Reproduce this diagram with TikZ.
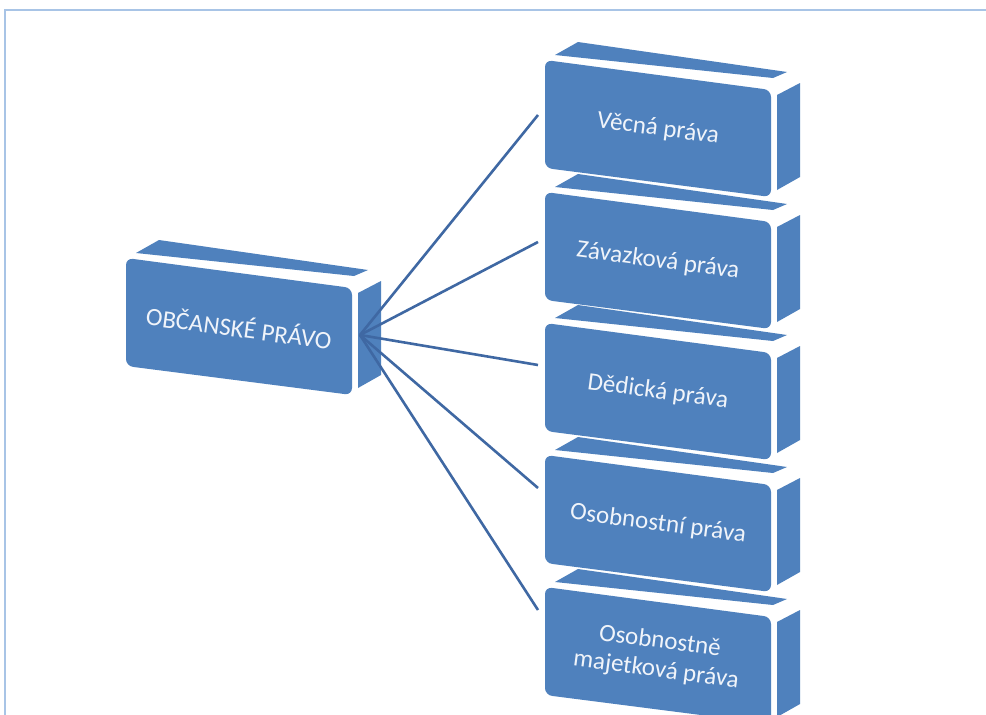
\documentclass[tikz,border=0pt]{standalone}
\usepackage{fontspec}
\setmainfont{Carlito}
\definecolor{boxblue}{HTML}{4F81BD}
\definecolor{linkblue}{HTML}{3F68A3}
\definecolor{frameblue}{HTML}{A8C4E6}
\definecolor{txtcol}{HTML}{F0F4FA}
\tikzset{
  face/.style={fill=boxblue},
  frontface/.style={fill=boxblue, rounded corners=7pt},
  lbl/.style={text=txtcol, font=\fontsize{25}{29}\selectfont, rotate=-7.6, align=center, inner sep=0pt},
  link/.style={draw=linkblue, line width=2.6pt},
  frameline/.style={draw=frameblue, line width=2pt}
}
\newcommand\drawblock[4]{%
  \fill[face] ({#1+10},{#2-5}) -- ({#1+33},{#2-18}) -- ({#1+242},{#2+12}) -- ({#1+228},{#2+18}) -- cycle;
  \fill[face] ({#1+232},{#2+35}) -- ({#1+255},{#2+23}) -- ({#1+255},{#2+117}) -- ({#1+232},{#2+130}) -- cycle;
  \fill[frontface] (#1,#2) -- ({#1+226},{#2+30}) -- ({#1+226},{#2+137}) -- (#1,{#2+108}) -- cycle;
  \node[lbl] (#3) at ({#1+113},{#2+69}) {#4};
}
\begin{document}
\begin{tikzpicture}[x=1pt,y=-1pt]
\useasboundingbox (0,0) rectangle (986,715);
\fill[white] (0,0) rectangle (986,715);
\draw[frameline] (5,716) -- (5,10) -- (987,10);
\drawblock{126}{258}{main}{OBČANSKÉ PRÁVO}
\drawblock{545}{60}{b1}{Věcná práva}
\drawblock{545}{192}{b2}{Závazková práva}
\drawblock{545}{323}{b3}{Dědická práva}
\drawblock{545}{455}{b4}{Osobnostní práva}
\drawblock{545}{587}{b5}{Osobnostně\\majetková práva}
\coordinate (hub) at (360,335);
\coordinate (e1) at (538,115);
\coordinate (e2) at (538,242);
\coordinate (e3) at (538,365);
\coordinate (e4) at (538,488);
\coordinate (e5) at (538,610);
\foreach \e in {e1,e2,e3,e4,e5} \draw[link] (hub) -- (\e);
\end{tikzpicture}
\end{document}
